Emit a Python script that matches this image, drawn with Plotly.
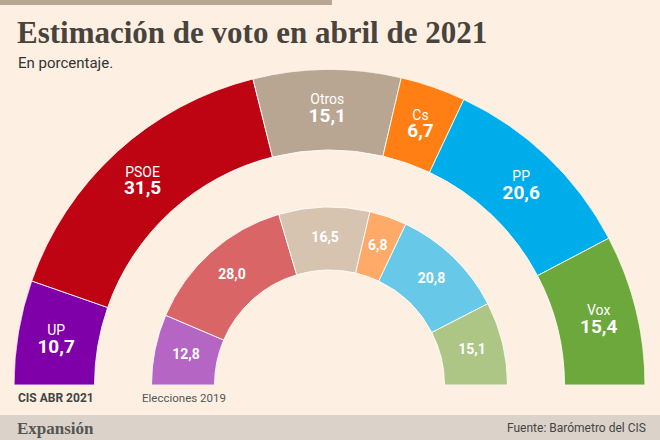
import plotly.graph_objects as go
import numpy as np

# Data
parties = ["UP", "PSOE", "Otros", "Cs", "PP", "Vox"]
cis_abr_2021 = [10.7, 31.5, 15.1, 6.7, 20.6, 15.4]
elecciones_2019 = [12.8, 28.0, 16.5, 6.8, 20.8, 15.1]
outer_colors = ["#7F00A8", "#BE0413", "#B8A592", "#FF7F14", "#00ADEB", "#6CA83B"]
inner_colors = ["#B565C4", "#DA6566", "#D6C4B1", "#FFAA68", "#68C8E8", "#ADC686"]

BG = "#FDF0E2"
R_OUT_IN, R_OUT_OUT = 235, 315.5
R_IN_IN, R_IN_OUT = 115, 178


def fmt(v):
    return f"{v:.1f}".replace(".", ",")


def arcs(vals):
    v = np.array(vals, dtype=float)
    span = v / v.sum() * 180.0
    start = np.concatenate([[0], np.cumsum(span)[:-1]])
    return start + span / 2, span


fig = go.Figure()

for vals, cols, r0, r1 in [(cis_abr_2021, outer_colors, R_OUT_IN, R_OUT_OUT),
                           (elecciones_2019, inner_colors, R_IN_IN, R_IN_OUT)]:
    mid, span = arcs(vals)
    fig.add_trace(go.Barpolar(
        theta=mid, width=span, base=[r0] * len(vals), r=[r1 - r0] * len(vals),
        marker=dict(color=cols, line=dict(color="rgba(255,255,255,0.85)", width=1)),
        hoverinfo="skip", showlegend=False))

mid_o, _ = arcs(cis_abr_2021)
r_lab = [(R_OUT_IN + R_OUT_OUT) / 2 + 2] * len(parties)
fig.add_trace(go.Scatterpolar(
    theta=mid_o, r=r_lab, mode="text", text=parties,
    textfont=dict(family="Roboto, sans-serif", size=14, color="white"),
    textposition="top center", cliponaxis=False, hoverinfo="skip", showlegend=False))
fig.add_trace(go.Scatterpolar(
    theta=mid_o, r=r_lab, mode="text", text=[f"<b>{fmt(v)}</b>" for v in cis_abr_2021],
    textfont=dict(family="Roboto, sans-serif", size=19, color="white"),
    textposition="bottom center", cliponaxis=False, hoverinfo="skip", showlegend=False))

mid_i, _ = arcs(elecciones_2019)
fig.add_trace(go.Scatterpolar(
    theta=mid_i, r=[(R_IN_IN + R_IN_OUT) / 2] * len(parties), mode="text",
    text=[f"<b>{fmt(v)}</b>" for v in elecciones_2019],
    textfont=dict(family="Roboto, sans-serif", size=14, color="white"),
    textposition="middle center", cliponaxis=False, hoverinfo="skip", showlegend=False))

W, H = 660, 440
fig.update_layout(
    width=W, height=H, margin=dict(l=0, r=0, t=0, b=0),
    paper_bgcolor=BG, plot_bgcolor=BG,
    polar=dict(
        domain=dict(x=[13.5 / W, 645.5 / W], y=[55 / H, (55 + 315.5) / H]),
        sector=[0, 180], bgcolor="rgba(0,0,0,0)",
        radialaxis=dict(visible=False, range=[0, R_OUT_OUT], showgrid=False),
        angularaxis=dict(visible=False, direction="clockwise", rotation=180, showgrid=False),
        barmode="overlay"),
    shapes=[
        dict(type="rect", xref="paper", yref="paper", x0=0, x1=332 / W, y0=1 - 5 / H, y1=1,
             fillcolor="#B8A592", line_width=0, layer="below"),
        dict(type="rect", xref="paper", yref="paper", x0=0, x1=1, y0=0, y1=25 / H,
             fillcolor="#DBD3CA", line_width=0, layer="below"),
    ],
    annotations=[
        dict(text="<b>Estimación de voto en abril de 2021</b>", x=15 / W, y=1 - 32 / H,
             xref="paper", yref="paper", xanchor="left", yanchor="middle", showarrow=False,
             font=dict(family="Liberation Serif, serif", size=31, color="#48443D")),
        dict(text="En porcentaje.", x=16 / W, y=1 - 63 / H,
             xref="paper", yref="paper", xanchor="left", yanchor="middle", showarrow=False,
             font=dict(family="Roboto, sans-serif", size=15, color="#333333")),
        dict(text="<b>CIS ABR 2021</b>", x=16 / W, y=1 - 398 / H,
             xref="paper", yref="paper", xanchor="left", yanchor="middle", showarrow=False,
             font=dict(family="Roboto, sans-serif", size=12, color="#444444")),
        dict(text="Elecciones 2019", x=140 / W, y=1 - 398 / H,
             xref="paper", yref="paper", xanchor="left", yanchor="middle", showarrow=False,
             font=dict(family="Roboto, sans-serif", size=11.5, color="#555555")),
        dict(text="<b>Expansión</b>", x=15 / W, y=1 - 428 / H,
             xref="paper", yref="paper", xanchor="left", yanchor="middle", showarrow=False,
             font=dict(family="Liberation Serif, serif", size=17, color="#555555")),
        dict(text="Fuente: Barómetro del CIS", x=648 / W, y=1 - 428 / H,
             xref="paper", yref="paper", xanchor="right", yanchor="middle", showarrow=False,
             font=dict(family="Roboto, sans-serif", size=12, color="#444444")),
    ],
)

fig.write_html("out.html", config={"displayModeBar": False},
               post_script="document.body.style.margin='0';document.body.style.overflow='hidden';")
